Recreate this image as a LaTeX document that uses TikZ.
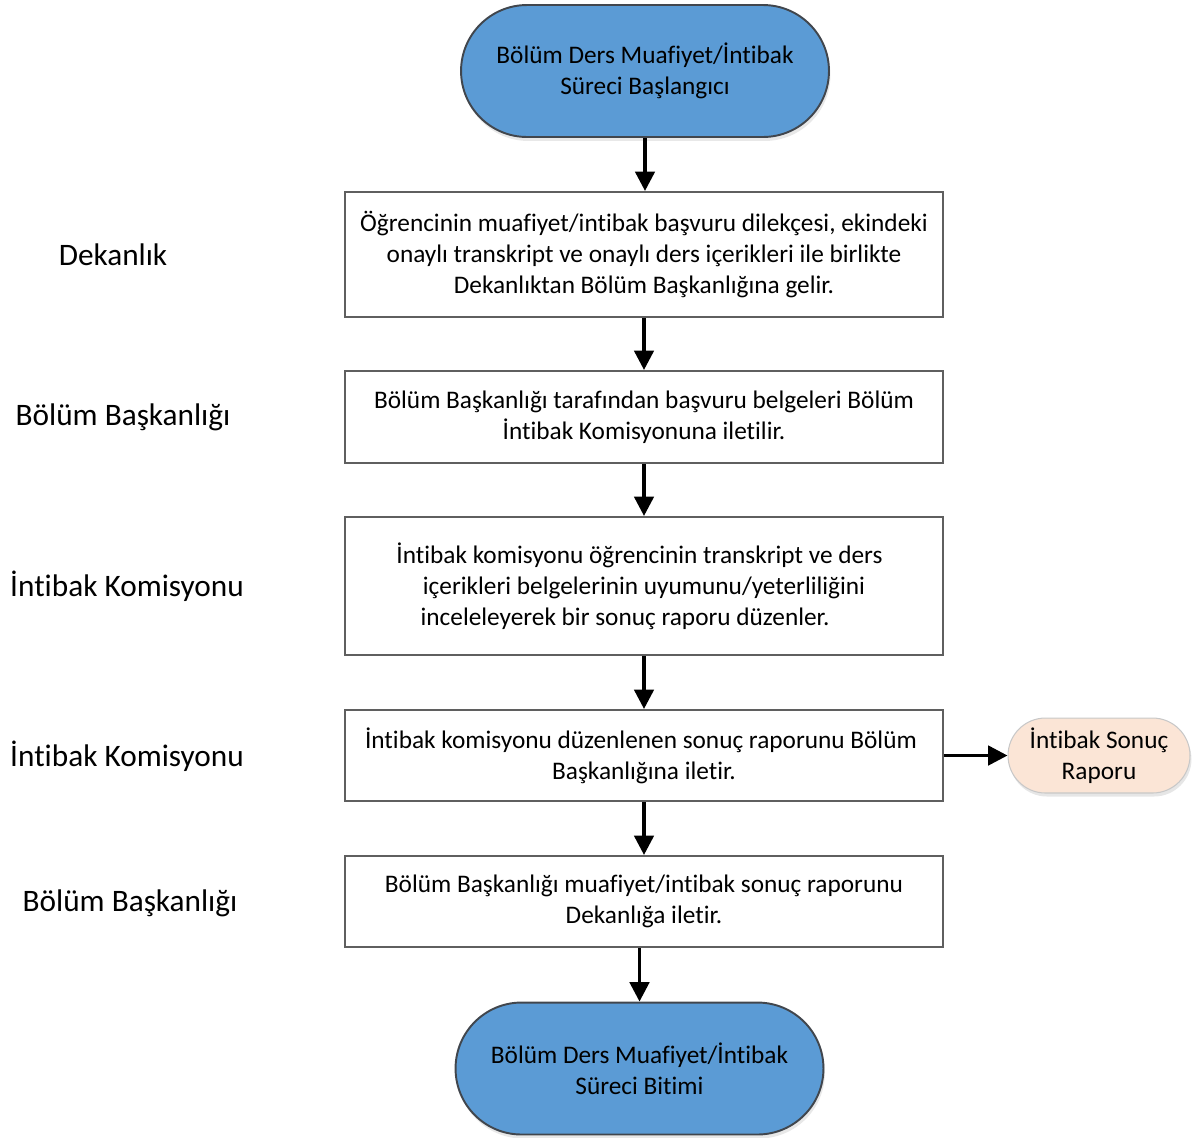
\documentclass[tikz,border=0pt]{standalone}
\usepackage{fontspec}
\setmainfont{Carlito}[Ligatures=NoCommon]
\usetikzlibrary{arrows.meta, positioning, calc, shadows}
\definecolor{termblue}{HTML}{5B9BD5}
\definecolor{termedge}{HTML}{41464D}
\definecolor{boxedge}{HTML}{5F5F5F}
\definecolor{docfill}{HTML}{FBE5D6}
\definecolor{docedge}{HTML}{C8C8C8}
\begin{document}
\begin{tikzpicture}[
        x=0.02cm, y=-0.02cm,
        every node/.style={font=\fontsize{14.4}{17.6}\selectfont},
        terminal/.style={rectangle,draw=termedge,line width=1.1pt,fill=termblue,
          rounded corners=1.32cm,minimum width=7.36cm,minimum height=2.64cm,align=center,
          drop shadow={opacity=0.18,shadow xshift=0.03cm,shadow yshift=-0.08cm}},
        stepbox/.style={rectangle,draw=boxedge,line width=1.2pt,minimum width=11.96cm,align=center},
        report/.style={rectangle,draw=docedge,line width=0.6pt,fill=docfill,
          rounded corners=0.75cm,minimum width=3.64cm,minimum height=1.5cm,align=center,
          drop shadow={opacity=0.2,shadow xshift=0.03cm,shadow yshift=-0.07cm}},
        role/.style={font=\fontsize{17.8}{21}\selectfont},
        flow/.style={-{Triangle[length=11pt,width=11pt]},line width=2pt}
      ]
      \useasboundingbox (0,0) rectangle (1195,1137);

      % Start and end of the process
      \node[terminal] (start) at (645,71) {Bölüm Ders Muafiyet/İntibak\\Süreci Başlangıcı};
      \node[terminal] (finish) at (639.5,1068.5) {Bölüm Ders Muafiyet/İntibak\\Süreci Bitimi};

      % Process steps
      \node[stepbox,minimum height=2.5cm] (s1) at (644,254.5)
        {Öğrencinin muafiyet/intibak başvuru dilekçesi, ekindeki\\onaylı transkript ve onaylı ders içerikleri ile birlikte\\Dekanlıktan Bölüm Başkanlığına gelir.};
      \node[stepbox,minimum height=1.84cm] (s2) at (644,417)
        {Bölüm Başkanlığı tarafından başvuru belgeleri Bölüm\\İntibak Komisyonuna iletilir.};
      \node[stepbox,minimum height=2.76cm] (s3) at (644,586)
        {İntibak komisyonu öğrencinin transkript ve ders\hspace*{0.18cm}\\içerikleri belgelerinin uyumunu/yeterliliğini\hspace*{0.24cm}\\inceleleyerek bir sonuç raporu düzenler.\hspace*{0.76cm}};
      \node[stepbox,minimum height=1.82cm] (s4) at (644,755.5)
        {İntibak komisyonu düzenlenen sonuç raporunu Bölüm\hspace*{0.12cm}\\Başkanlığına iletir.};
      \node[stepbox,minimum height=1.82cm] (s5) at (644,901.5)
        {Bölüm Başkanlığı muafiyet/intibak sonuç raporunu\\Dekanlığa iletir.};

      % Output document
      \node[report] (rapor) at (1099,755.5) {İntibak Sonuç\\Raporu};

      % Responsible units
      \node[role] (r1) at (113,255) {Dekanlık};
      \node[role] (r2) at (123,417) {Bölüm Başkanlığı};
      \node[role] (r3) at (127,586) {İntibak Komisyonu};
      \node[role] (r4) at (127,756) {İntibak Komisyonu};
      \node[role] (r5) at (130,903) {Bölüm Başkanlığı};

      % Flow arrows
      \draw[flow] (start.south) -- (start.south |- s1.north);
      \draw[flow] (s1.south) -- (s2.north);
      \draw[flow] (s2.south) -- (s3.north);
      \draw[flow] (s3.south) -- (s4.north);
      \draw[flow] (s4.south) -- (s5.north);
      \draw[flow] (finish.north |- s5.south) -- (finish.north);
      \draw[flow] (s4.east) -- (rapor.west);
    \end{tikzpicture}
\end{document}
